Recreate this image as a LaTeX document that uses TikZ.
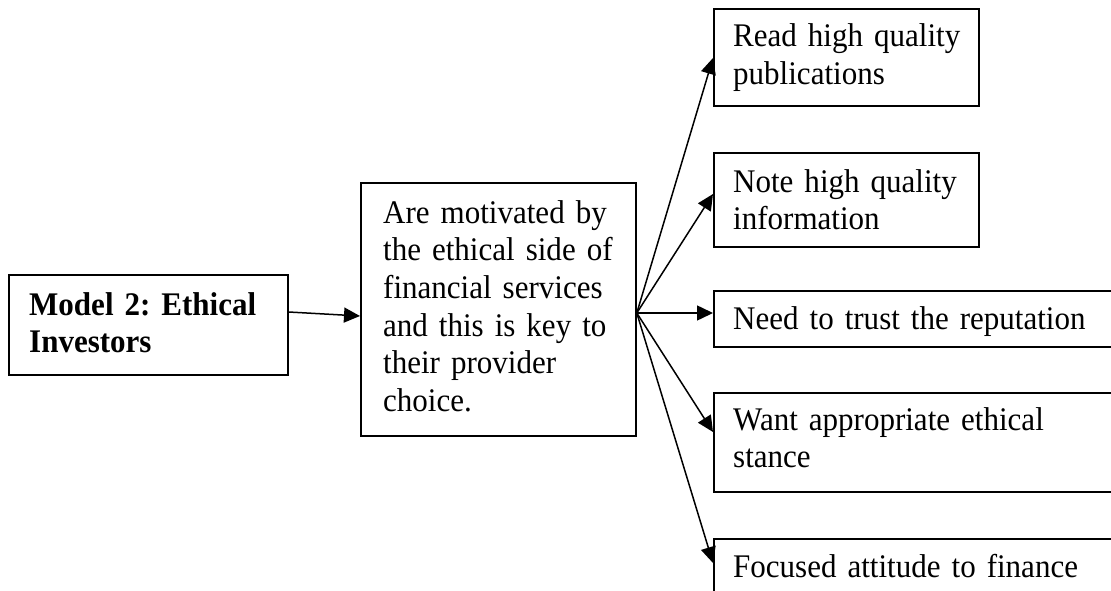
\documentclass[tikz,border=0pt]{standalone}
\usepackage{fontspec}
\setmainfont{Liberation Serif}[FakeStretch=0.94]
\usetikzlibrary{arrows.meta,calc}
\begin{document}
\frenchspacing
\begin{tikzpicture}[x=1pt,y=-1pt,
  box/.style={draw,line width=1.8pt,inner sep=0pt,anchor=north west},
  txt/.style={anchor=base west,inner sep=0pt,align=left,text width=420pt,
              font=\fontsize{33}{37.7}\selectfont},
  link/.style={line width=1.5pt,-{Triangle[length=16pt,width=15pt]}}]
\clip (0,0) rectangle (1111,591);

% boxes
\node[box,minimum width=279pt,minimum height=100pt] (inv) at (8,274) {};
\node[box,minimum width=275pt,minimum height=253pt] (mot) at (360,182) {};
\node[box,minimum width=265pt,minimum height=97pt] (r1) at (713,8) {};
\node[box,minimum width=265pt,minimum height=94pt] (r2) at (713,152) {};
\node[box,minimum width=420pt,minimum height=56pt] (r3) at (713,290) {};
\node[box,minimum width=420pt,minimum height=99pt] (r4) at (713,392) {};
\node[box,minimum width=420pt,minimum height=99pt] (r5) at (713,538) {};

% texts
\node[txt] (invt) at ($(inv.north west)+(21,41)$) {\textbf{Model 2: Ethical}\\\textbf{Investors}};
\node[txt] (mott) at ($(mot.north west)+(23,41)$) {Are motivated by\\the ethical side of\\financial services\\and this is key to\\their provider\\choice.};
\node[txt] (r1t) at ($(r1.north west)+(20,39)$) {Read high quality\\publications};
\node[txt] (r2t) at ($(r2.north west)+(20,40)$) {Note high quality\\information};
\node[txt] (r3t) at ($(r3.north west)+(20,39)$) {Need to trust the reputation};
\node[txt] (r4t) at ($(r4.north west)+(20,38)$) {Want appropriate ethical\\stance};
\node[txt] (r5t) at ($(r5.north west)+(20,39)$) {Focused attitude to finance};

% connectors
\coordinate (src) at ($(inv.north east)+(0,38)$);
\coordinate (fan) at ($(mot.north east)+(0,131)$);
\draw[link] (src) -- ($(mot.north west)+(0,134)$);
\draw[link] (fan) -- ($(r1.north west)+(0,50)$);
\draw[link] (fan) -- ($(r2.north west)+(0,42)$);
\draw[link] (fan) -- ($(r3.north west)+(0,23)$);
\draw[link] (fan) -- ($(r4.north west)+(0,40)$);
\draw[link] (fan) -- ($(r5.north west)+(0,25)$);
\end{tikzpicture}
\end{document}
